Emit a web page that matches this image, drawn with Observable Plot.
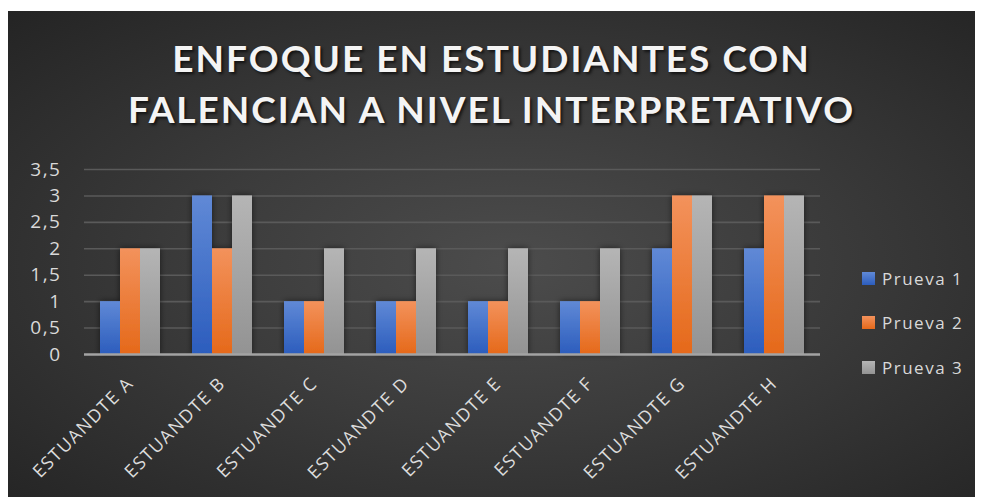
<!DOCTYPE html>
<html>
<head>
<meta charset="utf-8">
<script src="https://cdn.jsdelivr.net/npm/d3@7"></script>
<script src="https://cdn.jsdelivr.net/npm/@observablehq/plot@0.6"></script>
<style>
  html, body { margin: 0; padding: 0; background: #ffffff; }
  #chart {
    position: absolute; left: 8px; top: 11px; width: 967px; height: 486px; overflow: hidden;
    background: radial-gradient(ellipse farthest-corner at 52% 52%, #4c4c4c 0%, #3b3b3b 45%, #242424 100%);
  }
  #title {
    position: absolute; left: 0; top: 21px; width: 100%; text-align: center;
    font-family: "Lato", sans-serif; font-weight: 700; font-size: 37px; line-height: 51px;
    letter-spacing: 2px; color: #f4f4f4; text-shadow: 2px 2px 3px rgba(0,0,0,0.65);
  }
  #plot { position: absolute; left: 0; top: 0; }
  #legend { position: absolute; left: 854px; top: 253px; font-family: "Open Sans", sans-serif; font-size: 17px; letter-spacing: 1.5px; color: #d9d9d9; }
  .item { position: absolute; left: 0; height: 28px; white-space: nowrap; display: flex; align-items: center; }
  .sw { width: 13px; height: 13px; margin-right: 7px; }
</style>
</head>
<body>
<div id="chart">
  <div id="plot"></div>
  <div id="title">ENFOQUE EN ESTUDIANTES CON<br>FALENCIAN A NIVEL INTERPRETATIVO</div>
  <div id="legend"></div>
</div>
<script>
const students = ["ESTUANDTE A","ESTUANDTE B","ESTUANDTE C","ESTUANDTE D","ESTUANDTE E","ESTUANDTE F","ESTUANDTE G","ESTUANDTE H"];
const series = ["Prueva 1","Prueva 2","Prueva 3"];
const prueva1 = [1, 3, 1, 1, 1, 1, 2, 2];
const prueva2 = [2, 2, 1, 1, 1, 1, 3, 3];
const prueva3 = [2, 3, 2, 2, 2, 2, 3, 3];
const yTicks = [0, 0.5, 1, 1.5, 2, 2.5, 3, 3.5];
const gradIds = ["gBlue","gOrange","gGray"];
const gradStops = [["#6089d6","#2c5dbd"],["#f3925c","#e5691a"],["#b5b5b5","#939393"]];

const values = [prueva1, prueva2, prueva3];
const data = [];
students.forEach((s, i) => series.forEach((k, j) => data.push({student: s, series: k, value: values[j][i]})));

const plot = Plot.plot({
  width: 967, height: 486,
  marginLeft: 75, marginRight: 155, marginTop: 158, marginBottom: 143,
  style: {background: "transparent", color: "#d9d9d9", fontFamily: "'Open Sans', sans-serif", fontSize: "19px", letterSpacing: "1.5px", overflow: "visible"},
  fx: {domain: students, padding: 0, axis: null, label: null},
  x: {domain: series, paddingInner: 0, paddingOuter: 0.727, axis: null},
  y: {domain: [0, 3.5], ticks: yTicks, tickFormat: d => String(d).replace(".", ","), tickSize: 0, tickPadding: 23, label: null},
  color: {domain: series, range: gradIds.map(id => `url(#${id})`)},
  marks: [
    Plot.gridY(yTicks.filter(d => d > 0), {stroke: "#5a5a5a", strokeOpacity: 1, strokeWidth: 1.6}),
    Plot.barY(data, {fx: "student", x: "series", y: "value", fill: "series", inset: 0}),
    Plot.ruleY([0], {stroke: "#a3a3a3", strokeWidth: 2.5}),
    Plot.text(students, {fx: d => d, text: d => d, frameAnchor: "bottom", dx: 4, dy: 30, rotate: -45, textAnchor: "end", lineAnchor: "bottom", fontSize: 18, fill: "#dcdcdc"})
  ]
});
document.getElementById("plot").appendChild(plot);

const svg = d3.select(plot);
const defs = svg.insert("defs", ":first-child");
gradIds.forEach((id, i) => {
  const g = defs.append("linearGradient").attr("id", id).attr("x1", 0).attr("y1", 0).attr("x2", 0).attr("y2", 1);
  g.append("stop").attr("offset", "0%").attr("stop-color", gradStops[i][0]);
  g.append("stop").attr("offset", "100%").attr("stop-color", gradStops[i][1]);
});
const f = defs.append("filter").attr("id", "shadow").attr("x", "-30%").attr("y", "-10%").attr("width", "160%").attr("height", "120%");
f.append("feDropShadow").attr("dx", 0).attr("dy", 0).attr("stdDeviation", 3).attr("flood-color", "#000").attr("flood-opacity", 0.55);
svg.selectAll("g[aria-label='bar']").attr("filter", "url(#shadow)");

const legend = document.getElementById("legend");
series.forEach((s, i) => {
  const it = document.createElement("div");
  it.className = "item";
  it.style.top = (i * 44.5) + "px";
  it.innerHTML = `<div class="sw" style="background:linear-gradient(${gradStops[i][0]},${gradStops[i][1]})"></div><span>${s}</span>`;
  legend.appendChild(it);
});
</script>
</body>
</html>
